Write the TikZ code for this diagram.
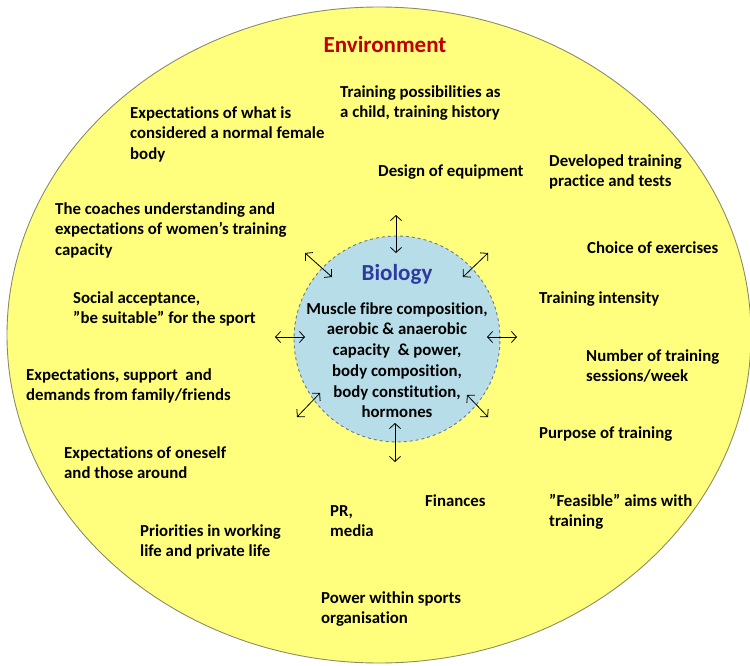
\documentclass[tikz,border=0pt]{standalone}
\usepackage{fontspec}
\setmainfont{Carlito}[Ligatures=NoCommon]
\usetikzlibrary{arrows.meta,shapes.geometric}
\definecolor{envyellow}{RGB}{255,255,125}
\definecolor{envedge}{RGB}{140,140,100}
\definecolor{biofill}{RGB}{183,222,232}
\definecolor{bioedge}{RGB}{110,120,130}
\definecolor{envred}{RGB}{192,0,0}
\definecolor{bioblue}{RGB}{46,58,160}
\newcommand{\fl}{\rule{0pt}{13pt}}
\begin{document}
\begin{tikzpicture}[x=1pt,y=-1pt,
  lbl/.style={anchor=north west,inner sep=0pt,align=left,font=\fontsize{16.8}{20.7}\selectfont\bfseries},
  title/.style={anchor=base,inner sep=0pt,font=\fontsize{23}{28}\selectfont\bfseries},
  dbl/.style={{Straight Barb[length=5pt,width=11pt]}-{Straight Barb[length=5pt,width=11pt]},line width=0.8pt},
]
\useasboundingbox (0,0) rectangle (750,666);
% outer environment ellipse
\node (envellipse) [ellipse,draw=envedge,line width=0.9pt,fill=envyellow,
  minimum width=744pt,minimum height=656pt,inner sep=0pt] at (379,335) {};
% inner biology circle
\node (biocircle) [circle,draw=bioedge,dashed,line width=0.9pt,fill=biofill,
  minimum size=206pt,inner sep=0pt] at (397,339) {};

% titles
\node (envtitle) [title,text=envred] at (385,53) {Environment};
\node (biotitle) [title,text=bioblue] at (397,280) {Biology};
\node (biotext) [lbl,anchor=north,align=center] at (397,301)
  {\fl Muscle fibre composition,\\aerobic \& anaerobic\\capacity~ \& power,\\body composition,\\body constitution,\\hormones};

% environment factors
\node (trpos) [lbl] at (340,84) {\fl Training possibilities as\\a child, training history};
\node (expnorm) [lbl] at (130,105) {\fl Expectations of what is\\considered a normal female\\body};
\node (design) [lbl] at (378,163) {\fl Design of equipment};
\node (devel) [lbl] at (549,153) {\fl Developed training\\practice and tests};
\node (coaches) [lbl] at (55,201) {\fl The coaches understanding and\\expectations of women’s training\\capacity};
\node (choice) [lbl] at (587,240) {\fl Choice of exercises};
\node (social) [lbl] at (73,290) {\fl Social acceptance,\\”be suitable” for the sport};
\node (intensity) [lbl] at (539,290) {\fl Training intensity};
\node (number) [lbl] at (586,348) {\fl Number of training\\sessions/week};
\node (family) [lbl] at (26,367) {\fl Expectations, support~ and\\demands from family/friends};
\node (purpose) [lbl] at (539,425) {\fl Purpose of training};
\node (oneself) [lbl] at (64,445) {\fl Expectations of oneself\\and those around};
\node (pr) [lbl] at (330,503) {\fl PR,\\media};
\node (finances) [lbl] at (425,493) {\fl Finances};
\node (feasible) [lbl] at (549,493) {\fl ”Feasible” aims with\\training};
\node (priorities) [lbl] at (140,523) {\fl Priorities in working\\life and private life};
\node (power) [lbl] at (321,590) {\fl Power within sports\\organisation};

% interaction arrows
\coordinate (t1) at (396,253); \coordinate (t2) at (396,215);
\coordinate (b1) at (395,423); \coordinate (b2) at (395,462);
\coordinate (l1) at (305,337); \coordinate (l2) at (275,337);
\coordinate (r1) at (487,337); \coordinate (r2) at (517,337);
\coordinate (tl1) at (332,277); \coordinate (tl2) at (305,253);
\coordinate (tr1) at (463,277); \coordinate (tr2) at (488,253);
\coordinate (bl1) at (320,393); \coordinate (bl2) at (297,417);
\coordinate (br1) at (467,395); \coordinate (br2) at (488,417);
\foreach \a in {t,b,l,r,tl,tr,bl,br}{
  \draw[dbl] (\a1) -- (\a2);
}
\end{tikzpicture}
\end{document}
